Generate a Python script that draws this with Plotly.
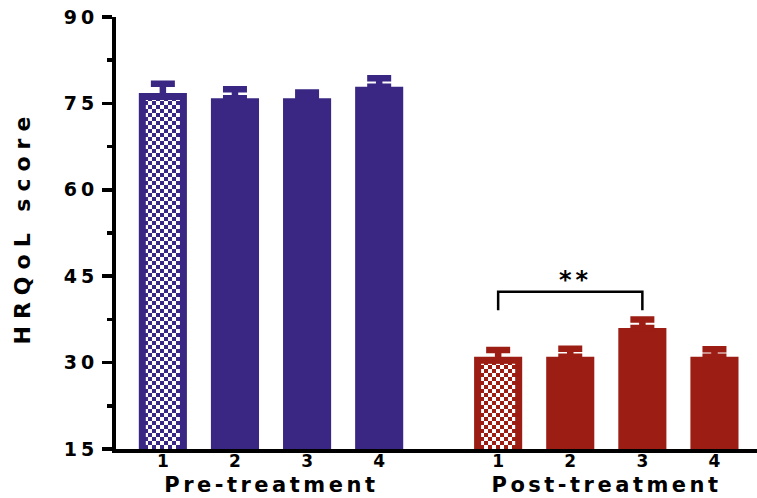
import plotly.graph_objects as go

# ---------------- data ----------------
categories = ["1", "2", "3", "4"]
groups = ["Pre-treatment", "Post-treatment"]
pre_values = [76.2, 75.9, 75.9, 77.9]
pre_errors = [2.2, 1.55, 1.0, 1.45]
post_values = [30.4, 31.0, 36.0, 31.0]
post_errors = [1.8, 1.4, 1.5, 1.3]
y_ticks = [15, 30, 45, 60, 75, 90]
y_title = "HRQoL score"
sig_label = "**"
sig_from, sig_to = 0, 2          # indices within Post-treatment
sig_level, sig_drop = 42.3, 3.2

# ---------------- style ----------------
PURPLE = "#3a2783"
RED = "#9b1d13"
FONT = "DejaVu Sans"
W, H = 757, 498
ML, MR, MT, MB = 116, 0, 17, 49
group_gap = 0.65
bar_w = 0.667
border_w = 7

n = len(categories)
pre_x = [i for i in range(n)]
post_x = [n + group_gap + i for i in range(n)]
x_range = [-0.65, post_x[-1] + 0.59]
px_per_unit = (W - ML - MR) / (x_range[1] - x_range[0])
inner_w = bar_w - border_w / px_per_unit


def group_trace(name, xs, vals, errs, color):
    k = len(vals)
    return go.Bar(
        x=xs, y=vals, name=name,
        width=[inner_w] + [bar_w] * (k - 1),
        marker=dict(
            color=color,
            line=dict(color=color, width=[border_w] + [0] * (k - 1)),
            pattern=dict(shape=["."] + [""] * (k - 1), fgcolor=color,
                         bgcolor=["white"] + [color] * (k - 1),
                         size=8, solidity=0.5, fillmode="replace"),
        ),
        error_y=dict(type="data", array=errs, arrayminus=[0] * k, symmetric=False,
                     color=color, thickness=6.5, width=12),
        hoverinfo="skip", showlegend=False,
    )


fig = go.Figure()
fig.add_trace(group_trace(groups[0], pre_x, pre_values, pre_errors, PURPLE))
fig.add_trace(group_trace(groups[1], post_x, post_values, post_errors, RED))

xa, xb = post_x[sig_from], post_x[sig_to]
fig.add_shape(type="path",
              path=f"M {xa},{sig_level - sig_drop} L {xa},{sig_level} L {xb},{sig_level} L {xb},{sig_level - sig_drop}",
              xref="x", yref="y", line=dict(color="black", width=2.5))

annotations = [
    dict(text=sig_label, x=(xa + xb) / 2, y=sig_level, xref="x", yref="y",
         xanchor="center", yanchor="bottom", showarrow=False, xshift=6, yshift=-4,
         font=dict(family=FONT, size=24, color="black", weight=700)),
    dict(text=y_title, x=-0.145, y=0.514, xref="paper", yref="paper", textangle=-90,
         xanchor="center", yanchor="middle", showarrow=False,
         font=dict(family=FONT, size=22, color="black", weight=700)),
]
for g, xs in zip(groups, [pre_x, post_x]):
    annotations.append(dict(text=g, x=sum(xs) / len(xs), y=-0.083, xref="x", yref="paper",
                            xanchor="center", yanchor="middle", showarrow=False,
                            font=dict(family=FONT, size=21, color="black", weight=700)))

fig.update_layout(
    width=W, height=H, margin=dict(l=ML, r=MR, t=MT, b=MB),
    paper_bgcolor="white", plot_bgcolor="white",
    barmode="overlay", annotations=annotations,
    xaxis=dict(range=x_range, tickvals=pre_x + post_x, ticktext=categories * 2,
               ticks="", showline=True, linewidth=4, linecolor="black",
               showgrid=False, zeroline=False, ticklabelstandoff=-6,
               tickfont=dict(family=FONT, size=17, color="black", weight=700)),
    yaxis=dict(range=[y_ticks[0], y_ticks[-1]], tickvals=y_ticks, ticktext=[str(t) for t in y_ticks],
               ticks="outside", ticklen=10, tickwidth=3.5, tickcolor="black",
               showline=True, linewidth=4, linecolor="black",
               showgrid=False, zeroline=False,
               minor=dict(tickvals=[(a + b) / 2 for a, b in zip(y_ticks[:-1], y_ticks[1:])],
                          ticks="outside", ticklen=5, tickwidth=3.5, tickcolor="black"),
               tickfont=dict(family=FONT, size=19, color="black", weight=700)),
)

js = r"""
document.body.style.margin = '0';
document.body.style.padding = '0';
var gd = document.getElementById('{plot_id}');
var NS = 'http://www.w3.org/2000/svg';
document.querySelectorAll('pattern').forEach(function(p){
  var sh = p.querySelector('circle');
  if(!sh) return;
  var fg = getComputedStyle(sh).fill || sh.getAttribute('fill');
  var c = 4;
  while(p.firstChild) p.removeChild(p.firstChild);
  p.setAttribute('width', 2*c); p.setAttribute('height', 2*c);
  function r(x,y,w,h,col){var e=document.createElementNS(NS,'rect');
    e.setAttribute('x',x);e.setAttribute('y',y);e.setAttribute('width',w);e.setAttribute('height',h);
    e.setAttribute('fill',col);p.appendChild(e);}
  r(0,0,2*c,2*c,'#ffffff'); r(0,0,c,c,fg); r(c,c,c,c,fg);
});
gd.querySelectorAll('.ytick text').forEach(function(t){ t.style.letterSpacing='4px'; });
gd.querySelectorAll('.annotation-text').forEach(function(t){
  var s = t.textContent;
  t.style.letterSpacing = (s === 'HRQoL score' ? '7px' : (s === '**' ? '4px' : '3.5px'));
});
"""

fig.write_html("out.html", post_script=js, config={"displayModeBar": False, "staticPlot": True})
